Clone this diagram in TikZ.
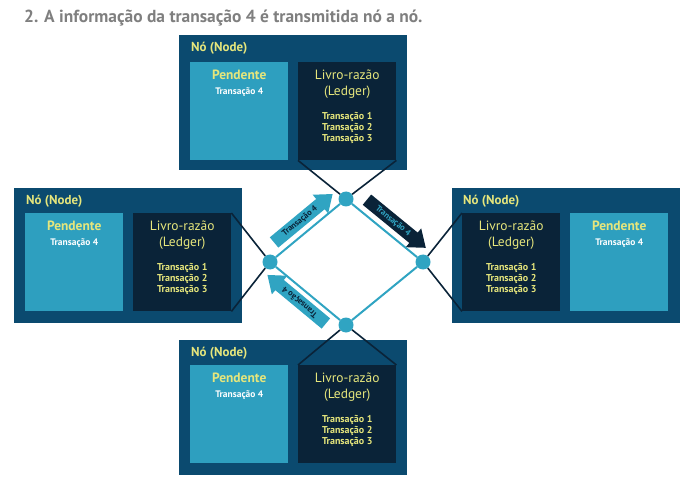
\documentclass[tikz,border=0pt]{standalone}
\usepackage{fontspec}
\setmainfont{PT Sans}
\usetikzlibrary{shapes.arrows}
\definecolor{nodeblue}{HTML}{0B4A6F}
\definecolor{pendblue}{HTML}{2E9FBF}
\definecolor{ledgblue}{HTML}{0A2338}
\definecolor{softyellow}{HTML}{E6E67C}
\definecolor{titlegray}{HTML}{7F7F7F}
\definecolor{linkteal}{HTML}{30A4C2}

\begin{document}
\begin{tikzpicture}[x=1bp,y=-1bp,
            outerbox/.style={fill=nodeblue,draw=none,minimum width=228bp,minimum height=135bp,anchor=north west,inner sep=0},
            pendbox/.style={fill=pendblue,minimum size=98bp,anchor=north west,inner sep=0},
            ledgbox/.style={fill=ledgblue,minimum size=98bp,anchor=north west,inner sep=0},
            nodetitle/.style={text=softyellow,font=\bfseries\fontsize{13}{13}\selectfont,anchor=west,inner sep=0},
            pendhead/.style={text=softyellow,font=\bfseries\fontsize{13.5}{13.5}\selectfont,inner sep=0},
            ledghead/.style={text=softyellow,font=\fontsize{13.5}{13.5}\selectfont,inner sep=0},
            pendtx/.style={text=white,font=\bfseries\fontsize{9.5}{9.5}\selectfont,inner sep=0},
            ledgtx/.style={text=softyellow,font=\bfseries\fontsize{10}{11}\selectfont,inner sep=0,align=center},
            junction/.style={circle,fill=linkteal,minimum size=15bp,inner sep=0},
            wire/.style={draw=ledgblue,line width=1.6bp},
            ring/.style={draw=linkteal,line width=2bp},
            passarrow/.style={single arrow,single arrow head extend=5.5bp,single arrow tip angle=75,
                minimum height=76bp,inner xsep=1bp,inner ysep=2.5bp,font=\bfseries\fontsize{8.5}{8.5}\selectfont},
            lightarrow/.style={passarrow,fill=linkteal,text=ledgblue},
            darkarrow/.style={passarrow,fill=ledgblue,text=linkteal}]
            \useasboundingbox (0,0) rectangle (697,490);
            \node[anchor=base west,inner sep=0,text=titlegray,font=\bfseries\fontsize{17.5}{17.5}\selectfont] (title) at (24,23) {2. A informação da transação 4 é transmitida nó a nó.};

            \node[outerbox] (topnode) at (179,35) {};
            \node[pendbox] (toppend) at (190,62) {};
            \node[ledgbox] (topledg) at (298,62) {};
            \node[nodetitle] (toptitle) at (191,48) {Nó (Node)};
            \node[pendhead] (toppendh) at ([yshift=-13bp]toppend.north) {Pendente};
            \node[pendtx] (toppendt) at ([yshift=-30bp]toppend.north) {Transação 4};
            \node[ledghead] (topledgh) at ([yshift=-13bp]topledg.north) {Livro-razão};
            \node[ledghead] (topledgs) at ([yshift=-30bp]topledg.north) {(Ledger)};
            \node[ledgtx] (topledgt) at ([yshift=-66bp]topledg.north) {Transação 1\\Transação 2\\Transação 3};

            \node[outerbox] (leftnode) at (14,188) {};
            \node[pendbox] (leftpend) at (25,213) {};
            \node[ledgbox] (leftledg) at (133,213) {};
            \node[nodetitle] (lefttitle) at (26,201) {Nó (Node)};
            \node[pendhead] (leftpendh) at ([yshift=-13bp]leftpend.north) {Pendente};
            \node[pendtx] (leftpendt) at ([yshift=-30bp]leftpend.north) {Transação 4};
            \node[ledghead] (leftledgh) at ([yshift=-13bp]leftledg.north) {Livro-razão};
            \node[ledghead] (leftledgs) at ([yshift=-30bp]leftledg.north) {(Ledger)};
            \node[ledgtx] (leftledgt) at ([yshift=-66bp]leftledg.north) {Transação 1\\Transação 2\\Transação 3};

            \node[outerbox] (rightnode) at (452,188) {};
            \node[ledgbox] (rightledg) at (462,213) {};
            \node[pendbox] (rightpend) at (570,213) {};
            \node[nodetitle] (righttitle) at (463,201) {Nó (Node)};
            \node[pendhead] (rightpendh) at ([yshift=-13bp]rightpend.north) {Pendente};
            \node[pendtx] (rightpendt) at ([yshift=-30bp]rightpend.north) {Transação 4};
            \node[ledghead] (rightledgh) at ([yshift=-13bp]rightledg.north) {Livro-razão};
            \node[ledghead] (rightledgs) at ([yshift=-30bp]rightledg.north) {(Ledger)};
            \node[ledgtx] (rightledgt) at ([yshift=-66bp]rightledg.north) {Transação 1\\Transação 2\\Transação 3};

            \node[outerbox] (botnode) at (179,340) {};
            \node[pendbox] (botpend) at (190,365) {};
            \node[ledgbox] (botledg) at (298,365) {};
            \node[nodetitle] (bottitle) at (191,353) {Nó (Node)};
            \node[pendhead] (botpendh) at ([yshift=-13bp]botpend.north) {Pendente};
            \node[pendtx] (botpendt) at ([yshift=-30bp]botpend.north) {Transação 4};
            \node[ledghead] (botledgh) at ([yshift=-13bp]botledg.north) {Livro-razão};
            \node[ledghead] (botledgs) at ([yshift=-30bp]botledg.north) {(Ledger)};
            \node[ledgtx] (botledgt) at ([yshift=-66bp]botledg.north) {Transação 1\\Transação 2\\Transação 3};

            \node[junction] (jtop) at (346,199) {};
            \node[junction] (jleft) at (270,262) {};
            \node[junction] (jright) at (423,262) {};
            \node[junction] (jbot) at (346,325) {};

            \draw[wire] (topledg.south west)--(jtop)--(topledg.south east);
            \draw[wire] (leftledg.north east)--(jleft)--(leftledg.south east);
            \draw[wire] (rightledg.north west)--(jright)--(rightledg.south west);
            \draw[wire] (botledg.north west)--(jbot)--(botledg.north east);
            \draw[ring] (jtop)--(jright)--(jbot)--(jleft)--(jtop);

            \node[lightarrow,rotate=39.6] (sendup) at (300,221) {Transação 4};
            \node[darkarrow,rotate=-39.3] (sendright) at (393,221) {Transação 4};
            \node[lightarrow,rotate=140.3] (sendback) at (300,302) {Transação 4};
        \end{tikzpicture}
\end{document}
